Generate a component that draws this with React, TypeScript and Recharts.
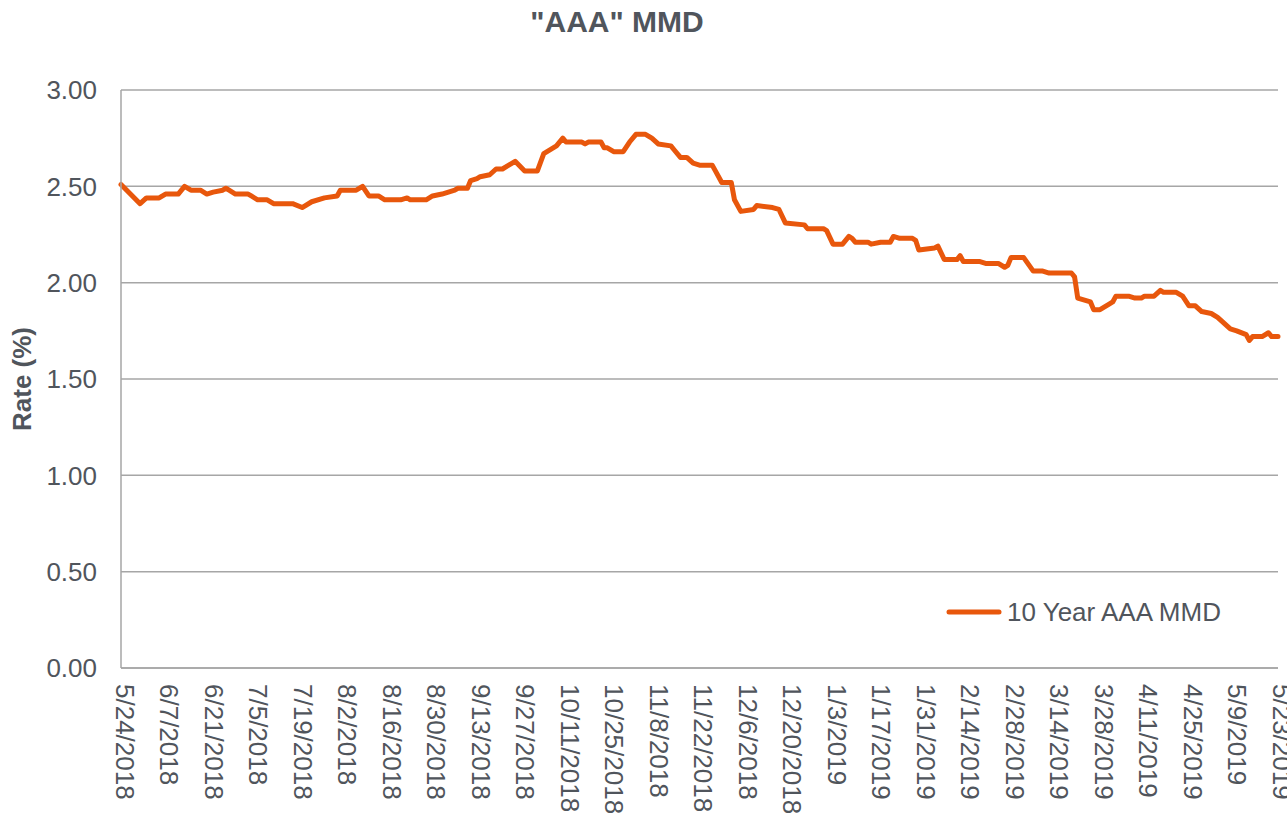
import React from 'react';
import { LineChart, Line, XAxis, YAxis, CartesianGrid, Legend } from 'recharts';

// Tick labels on the date axis (every 14 days)
const dateLabels = [
  '5/24/2018', '6/7/2018', '6/21/2018', '7/5/2018', '7/19/2018', '8/2/2018', '8/16/2018',
  '8/30/2018', '9/13/2018', '9/27/2018', '10/11/2018', '10/25/2018', '11/8/2018', '11/22/2018',
  '12/6/2018', '12/20/2018', '1/3/2019', '1/17/2019', '1/31/2019', '2/14/2019', '2/28/2019',
  '3/14/2019', '3/28/2019', '4/11/2019', '4/25/2019', '5/9/2019', '5/23/2019',
];

// Days since 5/24/2018
const days = [
  0, 6, 8, 12, 14, 18, 20, 22, 25, 27,
  29, 32, 33, 34, 36, 40, 41, 43, 46, 48,
  54, 57, 60, 64, 68, 69, 74, 76, 78, 81,
  83, 88, 90, 91, 96, 98, 101, 105, 106, 109,
  110, 112, 113, 116, 118, 120, 122, 124, 127, 131,
  133, 137, 139, 140, 145, 146, 147, 151, 152, 153,
  155, 158, 160, 162, 165, 167, 169, 173, 174, 176,
  178, 180, 182, 186, 187, 189, 192, 193, 195, 199,
  200, 205, 207, 209, 215, 216, 221, 222, 224, 227,
  229, 230, 231, 235, 236, 239, 242, 243, 245, 249,
  250, 251, 256, 257, 259, 263, 264, 265, 270, 272,
  276, 278, 279, 280, 284, 287, 290, 292, 299, 300,
  301, 305, 306, 308, 311, 312, 313, 317, 319, 321,
  322, 325, 327, 328, 332, 334, 336, 338, 340, 343,
  345, 347, 349, 351, 354, 355, 356, 359, 361, 362,
  364,
];

// 10 Year AAA MMD rate (%)
const rates = [
  2.51, 2.41, 2.44, 2.44, 2.46, 2.46, 2.50, 2.48, 2.48, 2.46,
  2.47, 2.48, 2.49, 2.48, 2.46, 2.46, 2.45, 2.43, 2.43, 2.41,
  2.41, 2.39, 2.42, 2.44, 2.45, 2.48, 2.48, 2.50, 2.45, 2.45,
  2.43, 2.43, 2.44, 2.43, 2.43, 2.45, 2.46, 2.48, 2.49, 2.49,
  2.53, 2.54, 2.55, 2.56, 2.59, 2.59, 2.61, 2.63, 2.58, 2.58,
  2.67, 2.71, 2.75, 2.73, 2.73, 2.72, 2.73, 2.73, 2.70, 2.70,
  2.68, 2.68, 2.73, 2.77, 2.77, 2.75, 2.72, 2.71, 2.69, 2.65,
  2.65, 2.62, 2.61, 2.61, 2.58, 2.52, 2.52, 2.43, 2.37, 2.38,
  2.40, 2.39, 2.38, 2.31, 2.30, 2.28, 2.28, 2.27, 2.20, 2.20,
  2.24, 2.23, 2.21, 2.21, 2.20, 2.21, 2.21, 2.24, 2.23, 2.23,
  2.22, 2.17, 2.18, 2.19, 2.12, 2.12, 2.14, 2.11, 2.11, 2.10,
  2.10, 2.08, 2.09, 2.13, 2.13, 2.06, 2.06, 2.05, 2.05, 2.03,
  1.92, 1.90, 1.86, 1.86, 1.89, 1.90, 1.93, 1.93, 1.92, 1.92,
  1.93, 1.93, 1.96, 1.95, 1.95, 1.93, 1.88, 1.88, 1.85, 1.84,
  1.82, 1.79, 1.76, 1.75, 1.73, 1.70, 1.72, 1.72, 1.74, 1.72,
  1.72,
];

const yTicks = [0, 0.5, 1, 1.5, 2, 2.5, 3];

const seriesName = '10 Year AAA MMD';
const LINE_COLOR = '#E8570C';
const TEXT_COLOR = '#50555C';
const GRID_COLOR = '#A6A6A6';
const FONT = '"Liberation Sans", Arial, Helvetica, sans-serif';

const parseDate = (s: string) => {
  const [m, d, y] = s.split('/').map(Number);
  return Date.UTC(y, m - 1, d);
};
const base = parseDate(dateLabels[0]);
const tickDays = dateLabels.map((s) => Math.round((parseDate(s) - base) / 86400000));
const labelByDay: Record<number, string> = {};
tickDays.forEach((d, i) => (labelByDay[d] = dateLabels[i]));

const data = days.map((d, i) => ({ day: d, rate: rates[i] }));

const XTick = (props: any) => {
  const { x, payload } = props;
  const tx = x + 4;
  const ty = 684;
  return (
    <text
      x={tx}
      y={ty}
      transform={`rotate(90, ${tx}, ${ty})`}
      dy="0.35em"
      textAnchor="start"
      fill={TEXT_COLOR}
      fontSize={26}
      fontFamily={FONT}
    >
      {labelByDay[payload.value]}
    </text>
  );
};

const LegendContent = () => (
  <div style={{ display: 'flex', alignItems: 'center', fontFamily: FONT, fontSize: 26, color: TEXT_COLOR, lineHeight: '26px', whiteSpace: 'nowrap' }}>
    <svg width={56} height={10} style={{ marginRight: 5 }}>
      <line x1={3} y1={5} x2={53} y2={5} stroke={LINE_COLOR} strokeWidth={5} strokeLinecap="round" />
    </svg>
    <span>{seriesName}</span>
  </div>
);

export default function App() {
  return (
    <div style={{ position: 'absolute', left: 0, top: 0, width: 1287, height: 824, background: '#fff' }}>
      <div
        style={{
          position: 'absolute',
          left: 0,
          width: 1234,
          top: 7,
          textAlign: 'center',
          fontFamily: FONT,
          fontWeight: 'bold',
          fontSize: 30,
          lineHeight: '30px',
          color: TEXT_COLOR,
        }}
      >
        "AAA" MMD
      </div>
      <LineChart width={1287} height={824} data={data} margin={{ top: 90, right: 9, bottom: 0, left: 0 }}>
        <CartesianGrid vertical={false} stroke={GRID_COLOR} strokeWidth={1.5} />
        <XAxis
          dataKey="day"
          type="number"
          domain={[0, 364]}
          ticks={tickDays}
          interval={0}
          height={156}
          tick={<XTick />}
          tickLine={false}
          axisLine={{ stroke: GRID_COLOR, strokeWidth: 1.5 }}
        />
        <YAxis
          type="number"
          domain={[0, 3]}
          ticks={yTicks}
          width={121}
          tickSize={0}
          tickMargin={24}
          tickLine={false}
          axisLine={{ stroke: GRID_COLOR, strokeWidth: 1.5 }}
          tickFormatter={(v: number) => v.toFixed(2)}
          tick={{ fill: TEXT_COLOR, fontSize: 26, fontFamily: FONT }}
          label={{
            content: () => (
              <text
                x={22}
                y={379}
                transform="rotate(-90, 22, 379)"
                textAnchor="middle"
                dominantBaseline="central"
                fill={TEXT_COLOR}
                fontSize={26}
                fontWeight="bold"
                fontFamily={FONT}
              >
                Rate (%)
              </text>
            ),
          }}
        />
        <Legend
          layout="horizontal"
          verticalAlign="middle"
          align="center"
          content={<LegendContent />}
          wrapperStyle={{ position: 'absolute', left: 946, top: 599, width: 'auto' }}
        />
        <Line
          type="linear"
          dataKey="rate"
          name={seriesName}
          stroke={LINE_COLOR}
          strokeWidth={5}
          strokeLinejoin="round"
          strokeLinecap="round"
          dot={false}
          activeDot={false}
          isAnimationActive={false}
        />
      </LineChart>
    </div>
  );
}
